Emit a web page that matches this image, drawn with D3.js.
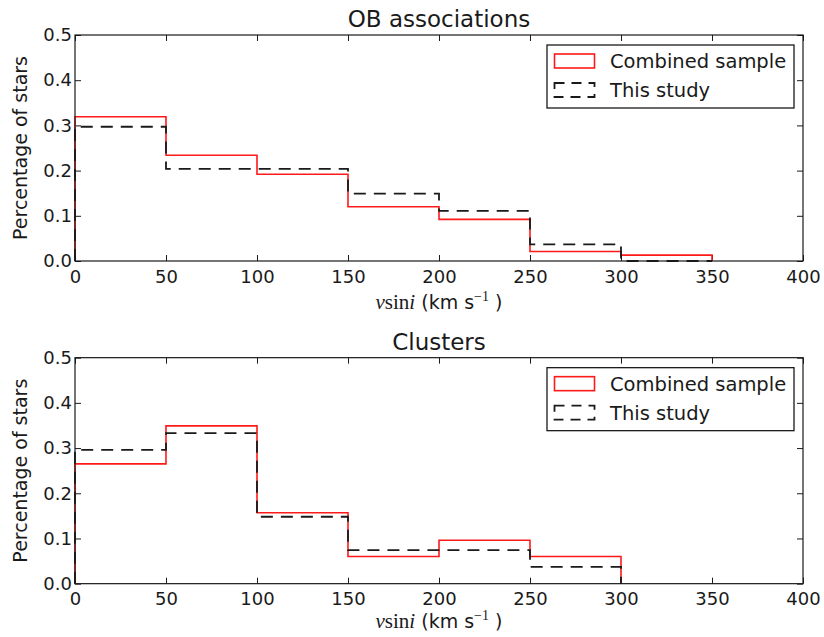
<!DOCTYPE html>
<html>
<head>
<meta charset="utf-8">
<script src="https://cdn.jsdelivr.net/npm/d3@7"></script>
<style>
  body { margin: 0; background: #fff; }
  svg { display: block; }
  text { font-family: "DejaVu Sans", sans-serif; fill: #1a1a1a; }
  .tick line { stroke: #1a1a1a; stroke-width: 1; }
  .tick text { font-size: 18px; fill: #1a1a1a; }
</style>
</head>
<body>
<svg id="chart"></svg>
<script>
var width = 824;
var height = 637;

// bin edges of vsini histograms (km/s)
var binEdges = [0, 50, 100, 150, 200, 250, 300, 350, 400];
var xTicks = [0, 50, 100, 150, 200, 250, 300, 350, 400];
var yTicks = [0.0, 0.1, 0.2, 0.3, 0.4, 0.5];

var seriesNames = ["Combined sample", "This study"];

// OB associations
var obCombined = [0.319, 0.234, 0.192, 0.120, 0.092, 0.021, 0.013];
var obThisStudy = [0.297, 0.204, 0.204, 0.149, 0.111, 0.037, 0.0];

// Clusters
var clCombined = [0.265, 0.349, 0.157, 0.060, 0.096, 0.060];
var clThisStudy = [0.296, 0.333, 0.148, 0.074, 0.074, 0.037];

var panels = [
	{ title: "OB associations", top: 35, xlabelY: 274, combined: obCombined, study: obThisStudy },
	{ title: "Clusters", top: 357.67, xlabelY: 270.5, combined: clCombined, study: clThisStudy }
];

var margin = { left: 75, right: 21 };
var plot_width = width - margin.left - margin.right;
var plot_height = 226;

var svg = d3.select("#chart").attr("width", width).attr("height", height);

var xScale = d3.scaleLinear().domain([0, 400]).range([0, plot_width]);
var yScale = d3.scaleLinear().domain([0, 0.5]).range([plot_height, 0]);

// outline of a step histogram, like matplotlib histtype="step"
function stepPoints(values) {
	var pts = [[binEdges[0], 0]];
	values.forEach(function(v, i) {
		pts.push([binEdges[i], v]);
		pts.push([binEdges[i + 1], v]);
	});
	pts.push([binEdges[values.length], 0]);
	return pts;
}

var line = d3.line()
	.x(function(d) { return xScale(d[0]); })
	.y(function(d) { return yScale(d[1]); });

panels.forEach(function(p) {
	var g = svg.append("g").attr("transform", "translate(" + margin.left + "," + p.top + ")");

	g.append("text")
		.attr("x", plot_width / 2)
		.attr("y", -8)
		.attr("text-anchor", "middle")
		.style("font-size", "23px")
		.text(p.title);

	// axes, ticks pointing inward on all four sides
	var xAxis = d3.axisBottom(xScale).tickValues(xTicks).tickSize(-6).tickPadding(9);
	var xAxisTop = d3.axisTop(xScale).tickValues(xTicks).tickSize(-6).tickFormat("");
	var yAxis = d3.axisLeft(yScale).tickValues(yTicks).tickSize(-6).tickPadding(3).tickFormat(d3.format(".1f"));
	var yAxisRight = d3.axisRight(yScale).tickValues(yTicks).tickSize(-6).tickFormat("");

	g.append("g").attr("transform", "translate(0," + plot_height + ")").call(xAxis);
	g.append("g").call(xAxisTop);
	g.append("g").call(yAxis);
	g.append("g").attr("transform", "translate(" + plot_width + ",0)").call(yAxisRight);
	g.selectAll(".domain").remove();
	g.selectAll(".tick text").attr("font-family", null);

	g.append("path")
		.attr("d", line(stepPoints(p.combined)))
		.style("fill", "none")
		.style("stroke", "#ff1a1a")
		.style("stroke-width", "1.6px");

	g.append("path")
		.attr("d", line(stepPoints(p.study)))
		.style("fill", "none")
		.style("stroke", "#1a1a1a")
		.style("stroke-width", "1.8px")
		.style("stroke-dasharray", "12,8");

	// frame
	g.append("rect")
		.attr("width", plot_width)
		.attr("height", plot_height)
		.style("fill", "none")
		.style("stroke", "#1a1a1a")
		.style("stroke-width", "1.2px");

	// y label
	g.append("text")
		.attr("transform", "translate(-48," + (plot_height / 2) + ") rotate(-90)")
		.attr("text-anchor", "middle")
		.style("font-size", "19px")
		.text("Percentage of stars");

	// x label: mathtext-like vsini (km s^-1)
	var xl = g.append("text")
		.attr("x", plot_width / 2)
		.attr("y", p.xlabelY)
		.attr("text-anchor", "middle")
		.style("font-size", "19px");
	xl.append("tspan").style("font-family", "'Liberation Serif', serif").style("font-style", "italic").style("font-size", "21px").text("v");
	xl.append("tspan").style("font-family", "'Liberation Serif', serif").style("font-size", "21px").text("sin");
	xl.append("tspan").style("font-family", "'Liberation Serif', serif").style("font-style", "italic").style("font-size", "21px").text("i");
	xl.append("tspan").text(" (km s");
	xl.append("tspan").attr("dy", -8).style("font-family", "'Liberation Serif', serif").style("font-size", "14px").text("\u22121");
	xl.append("tspan").attr("dy", 8).text(" )");

	// legend
	var lg = g.append("g").attr("transform", "translate(" + (547 - margin.left) + "," + 10 + ")");
	lg.append("rect")
		.attr("width", 247)
		.attr("height", 63)
		.style("fill", "#fff")
		.style("stroke", "#1a1a1a")
		.style("stroke-width", "1.3px");
	var styles = [
		{ stroke: "#ff1a1a", dash: null, w: "1.6px" },
		{ stroke: "#1a1a1a", dash: "10,7", w: "1.8px" }
	];
	seriesNames.forEach(function(name, i) {
		lg.append("rect")
			.attr("x", 7.5)
			.attr("y", 9 + i * 29)
			.attr("width", 40)
			.attr("height", 14)
			.style("fill", "none")
			.style("stroke", styles[i].stroke)
			.style("stroke-width", styles[i].w)
			.style("stroke-dasharray", styles[i].dash);
		lg.append("text")
			.attr("x", 63)
			.attr("y", 23 + i * 29)
			.style("font-size", "19.5px")
			.text(name);
	});
});
</script>
</body>
</html>
